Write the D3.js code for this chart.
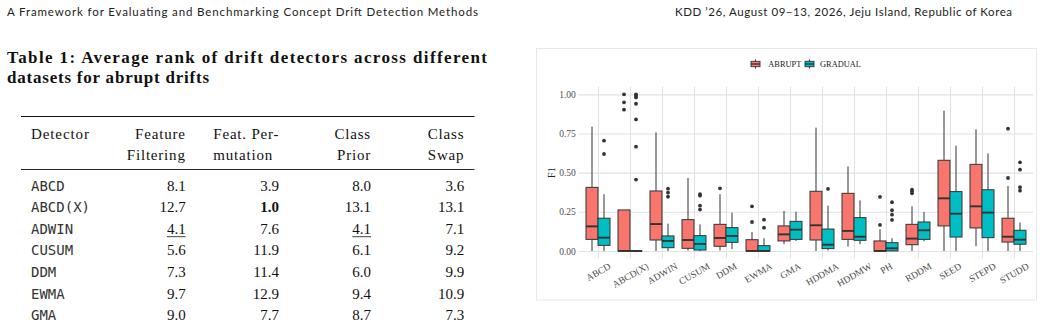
<!DOCTYPE html>
<html>
<head>
<meta charset="utf-8">
<script src="https://cdn.jsdelivr.net/npm/d3@7"></script>
<style>
  body { margin: 0; background: #fff; }
  svg { display: block; }
</style>
</head>
<body>
<svg></svg>
<script>
// ---- page text ----
var headerLeft = "A Framework for Evaluating and Benchmarking Concept Drift Detection Methods";
var headerRight = "KDD \u201926, August 09\u201313, 2026, Jeju Island, Republic of Korea";
var captionLines = ["Table 1: Average rank of drift detectors across different", "datasets for abrupt drifts"];

// ---- table data ----
var detectors = ["ABCD", "ABCD(X)", "ADWIN", "CUSUM", "DDM", "EWMA", "GMA"];
var columnHeads = [["Feature", "Filtering"], ["Feat. Per-", "mutation"], ["Class", "Prior"], ["Class", "Swap"]];
var featureFiltering = [8.1, 12.7, 4.1, 5.6, 7.3, 9.7, 9.0];
var featPermutation = [3.9, 1.0, 7.6, 11.9, 11.4, 12.9, 7.7];
var classPrior = [8.0, 13.1, 4.1, 6.1, 6.0, 9.4, 8.7];
var classSwap = [3.6, 13.1, 7.1, 9.2, 9.9, 10.9, 7.3];
var boldCells = [["ABCD(X)", 1]];
var underlineCells = [["ADWIN", 0], ["ADWIN", 2]];

// ---- boxplot data (F1) ----
var categories = ["ABCD", "ABCD(X)", "ADWIN", "CUSUM", "DDM", "EWMA", "GMA", "HDDMA", "HDDMW", "PH", "RDDM", "SEED", "STEPD", "STUDD"];
var groups = ["ABRUPT", "GRADUAL"];

var abruptLow  = [0, 0, 0, 0.003, 0.003, 0, 0.043, 0, 0.028, 0, 0, 0, 0.030, 0];
var abruptQ1   = [0.074, 0, 0.070, 0.017, 0.030, 0, 0.064, 0.070, 0.074, 0, 0.040, 0.160, 0.147, 0.057];
var abruptMed  = [0.157, 0, 0.172, 0.070, 0.083, 0, 0.106, 0.164, 0.128, 0, 0.079, 0.336, 0.285, 0.091];
var abruptQ3   = [0.406, 0.262, 0.383, 0.200, 0.170, 0.072, 0.160, 0.381, 0.368, 0.064, 0.170, 0.579, 0.553, 0.209];
var abruptHigh = [0.794, 0.262, 0.757, 0.466, 0.362, 0.121, 0.255, 0.787, 0.540, 0.138, 0.285, 0.896, 0.777, 0.415];
var abruptOut  = [[], [1.0, 0.949, 0.902], [], [], [0.40], [0.285, 0.185], [], [], [], [0.345, 0.166],
                  [0.391, 0.381, 0.368], [], [], [0.781, 0.466]];

var gradualLow  = [0, 0, 0, 0, 0.013, 0, 0.064, 0.004, 0.043, 0, 0.062, 0, 0, 0];
var gradualQ1   = [0.036, 0, 0.021, 0.006, 0.055, 0, 0.074, 0.015, 0.068, 0, 0.074, 0.089, 0.085, 0.043];
var gradualMed  = [0.085, 0, 0.064, 0.045, 0.096, 0, 0.136, 0.040, 0.091, 0.017, 0.132, 0.238, 0.245, 0.072];
var gradualQ3   = [0.209, 0, 0.096, 0.098, 0.149, 0.034, 0.189, 0.140, 0.213, 0.053, 0.185, 0.379, 0.391, 0.132];
var gradualHigh = [0.362, 0, 0.174, 0.170, 0.245, 0.081, 0.251, 0.289, 0.323, 0.081, 0.249, 0.672, 0.623, 0.181];
var gradualOut  = [[0.704, 0.619], [1.0, 0.99, 0.98, 0.94, 0.84, 0.666, 0.456], [0.398, 0.372, 0.346],
                   [0.362, 0.353, 0.289, 0.264], [], [0.20, 0.149], [], [0.396], [], [0.311, 0.26, 0.232, 0.198],
                   [], [], [], [0.566, 0.519, 0.407, 0.385]];

var yTicks = [0, 0.25, 0.5, 0.75, 1];

var SERIF = "'Liberation Serif', 'Times New Roman', serif";
var SANS = "Lato, 'Open Sans', sans-serif";
var MONO = "'DejaVu Sans Mono', monospace";

var svg = d3.select("svg").attr("width", 1047).attr("height", 327);

// ---- running header ----
svg.append("text")
  .attr("x", 7).attr("y", 15.5)
  .attr("textLength", 471).attr("lengthAdjust", "spacing")
  .style("font-family", SANS).style("font-size", "11.5px").attr("fill", "#222")
  .text(headerLeft);
svg.append("text")
  .attr("x", 675).attr("y", 15.5)
  .attr("textLength", 337).attr("lengthAdjust", "spacing")
  .style("font-family", SANS).style("font-size", "11.5px").attr("fill", "#222")
  .text(headerRight);

// ---- caption ----
svg.selectAll(".caption")
  .data(captionLines)
  .enter().append("text")
  .attr("class", "caption")
  .attr("x", 7)
  .attr("y", function (d, i) { return 63 + i * 20; })
  .attr("textLength", function (d, i) { return i === 0 ? 480 : 202; })
  .attr("lengthAdjust", "spacing")
  .style("font-family", SERIF).style("font-size", "17px").style("font-weight", "bold")
  .attr("fill", "#111")
  .text(function (d) { return d; });

// ---- table ----
var table = svg.append("g");
var colValues = [featureFiltering, featPermutation, classPrior, classSwap];
var colRight = [185.7, 279, 371, 464.3];
var headX = [185.7, 213.3, 371, 464.3];
var headAnchor = ["end", "start", "end", "end"];
var rowY = function (i) { return 190.5 + i * 21.6; };

table.append("line").attr("x1", 21).attr("x2", 474.5).attr("y1", 116.5).attr("y2", 116.5)
  .attr("stroke", "#111").attr("stroke-width", 1.2);
table.append("line").attr("x1", 21).attr("x2", 474.5).attr("y1", 169.5).attr("y2", 169.5)
  .attr("stroke", "#111").attr("stroke-width", 0.9);

table.append("text")
  .attr("x", 31).attr("y", 139)
  .style("font-family", SERIF).style("font-size", "15px").style("letter-spacing", "0.9px")
  .attr("fill", "#111")
  .text("Detector");

columnHeads.forEach(function (head, c) {
  head.forEach(function (line, k) {
    table.append("text")
      .attr("x", headX[c]).attr("y", 139 + k * 20.5)
      .attr("text-anchor", headAnchor[c])
      .style("font-family", SERIF).style("font-size", "15px").style("letter-spacing", "0.8px")
      .attr("fill", "#111")
      .text(line);
  });
});

detectors.forEach(function (det, i) {
  table.append("text")
    .attr("x", 31).attr("y", rowY(i))
    .style("font-family", MONO).style("font-size", "14px")
    .attr("fill", "#333")
    .text(det);

  colValues.forEach(function (vals, c) {
    var isBold = boldCells.some(function (b) { return b[0] === det && b[1] === c; });
    var isUnder = underlineCells.some(function (u) { return u[0] === det && u[1] === c; });
    var t = table.append("text")
      .attr("x", colRight[c]).attr("y", rowY(i))
      .attr("text-anchor", "end")
      .style("font-family", SERIF).style("font-size", "15px")
      .style("font-weight", isBold ? "bold" : "normal")
      .attr("fill", "#111")
      .text(vals[i].toFixed(1));
    if (isUnder) {
      var w = t.node().getComputedTextLength();
      table.append("line")
        .attr("x1", colRight[c] - w).attr("x2", colRight[c])
        .attr("y1", rowY(i) + 3).attr("y2", rowY(i) + 3)
        .attr("stroke", "#111").attr("stroke-width", 0.8);
    }
  });
});

// ---- figure frame ----
svg.append("rect")
  .attr("x", 536.5).attr("y", 48.5).attr("width", 500).attr("height", 251.5)
  .attr("fill", "none").attr("stroke", "#e8e8e8").attr("stroke-width", 1);

// ---- boxplot ----
var L = 578.8, R = 1033.2, T = 86.5, B = 258.8;
var color = d3.scaleOrdinal().domain(groups).range(["#F8766D", "#00BFC4"]);
var x = d3.scalePoint().domain(categories).range([L, R]).padding(0.6);
var dodge = d3.scaleBand().domain(groups).range([-0.375 * x.step(), 0.375 * x.step()]);
var y = d3.scaleLinear().domain([-0.05, 1.05]).range([B, T]);

var plot = svg.append("g");

var yAxis = d3.axisLeft(y).tickValues(yTicks).tickFormat(d3.format(".2f"))
  .tickSize(-(R - L)).tickPadding(3);
var gy = plot.append("g").attr("transform", "translate(" + L + ",0)").call(yAxis);
gy.select(".domain").remove();
gy.selectAll("line").attr("stroke", "#e2e2e2").attr("stroke-width", 1.1);
gy.selectAll("text").style("font-family", SERIF).style("font-size", "9.5px").attr("fill", "#4d4d4d");

var xAxis = d3.axisBottom(x).tickSize(-(B - T)).tickPadding(0);
var gx = plot.append("g").attr("transform", "translate(0," + B + ")").call(xAxis);
gx.select(".domain").remove();
gx.selectAll("line").attr("stroke", "#e2e2e2").attr("stroke-width", 1.1);
gx.selectAll("text")
  .style("font-family", SERIF).style("font-size", "9.5px").attr("fill", "#4d4d4d")
  .attr("text-anchor", "middle").attr("dominant-baseline", "central")
  .attr("y", null).attr("dy", null)
  .attr("transform", function () {
    var w = this.getComputedTextLength();
    return "translate(0," + (262.7 - B + w / 4 + 2.8) + ") rotate(-30)";
  });

plot.append("text")
  .attr("transform", "translate(551," + y(0.5) + ") rotate(-90)")
  .attr("text-anchor", "middle").attr("dominant-baseline", "central")
  .style("font-family", SERIF).style("font-size", "10px").attr("fill", "#222")
  .text("F1");

// build box stats from the named arrays
var stats = [];
categories.forEach(function (cat, i) {
  stats.push({ cat: cat, group: "ABRUPT", low: abruptLow[i], q1: abruptQ1[i], med: abruptMed[i], q3: abruptQ3[i], high: abruptHigh[i], out: abruptOut[i] });
  stats.push({ cat: cat, group: "GRADUAL", low: gradualLow[i], q1: gradualQ1[i], med: gradualMed[i], q3: gradualQ3[i], high: gradualHigh[i], out: gradualOut[i] });
});

var bw = dodge.bandwidth();
var boxes = plot.selectAll(".box")
  .data(stats)
  .enter().append("g")
  .attr("class", "box")
  .attr("transform", function (d) { return "translate(" + (x(d.cat) + dodge(d.group)) + ",0)"; });

boxes.append("line")
  .attr("x1", bw / 2).attr("x2", bw / 2)
  .attr("y1", function (d) { return y(d.high); })
  .attr("y2", function (d) { return y(d.q3); })
  .attr("stroke", "#333").attr("stroke-width", 1);
boxes.append("line")
  .attr("x1", bw / 2).attr("x2", bw / 2)
  .attr("y1", function (d) { return y(d.q1); })
  .attr("y2", function (d) { return y(d.low); })
  .attr("stroke", "#333").attr("stroke-width", 1);
boxes.append("rect")
  .attr("x", 0).attr("width", bw)
  .attr("y", function (d) { return y(d.q3); })
  .attr("height", function (d) { return Math.max(y(d.q1) - y(d.q3), 0.01); })
  .attr("fill", function (d) { return color(d.group); })
  .attr("stroke", "#333").attr("stroke-width", 1);
boxes.append("line")
  .attr("x1", 0).attr("x2", bw)
  .attr("y1", function (d) { return y(d.med); })
  .attr("y2", function (d) { return y(d.med); })
  .attr("stroke", "#333").attr("stroke-width", 1.9);
boxes.selectAll(".out")
  .data(function (d) { return d.out; })
  .enter().append("circle")
  .attr("class", "out")
  .attr("cx", bw / 2)
  .attr("cy", function (v) { return y(v); })
  .attr("r", 1.9)
  .attr("fill", "#333");

// ---- legend ----
var legend = plot.append("g");
var legendX = [751, 805];
var labelX = [768.3, 820];
groups.forEach(function (g, i) {
  var k = legend.append("g").attr("transform", "translate(" + legendX[i] + ",59.5)");
  k.append("line").attr("x1", 4.5).attr("x2", 4.5).attr("y1", 0).attr("y2", 9)
    .attr("stroke", "#333").attr("stroke-width", 1);
  k.append("rect").attr("x", 0).attr("y", 1.8).attr("width", 9).attr("height", 5.4)
    .attr("fill", color(g)).attr("stroke", "#333").attr("stroke-width", 0.9);
  k.append("line").attr("x1", 0).attr("x2", 9).attr("y1", 4.5).attr("y2", 4.5)
    .attr("stroke", "#333").attr("stroke-width", 1.3);
  legend.append("text")
    .attr("x", labelX[i]).attr("y", 64)
    .attr("dominant-baseline", "central")
    .style("font-family", SERIF).style("font-size", "8.4px").attr("fill", "#222")
    .text(g);
});
</script>
</body>
</html>
